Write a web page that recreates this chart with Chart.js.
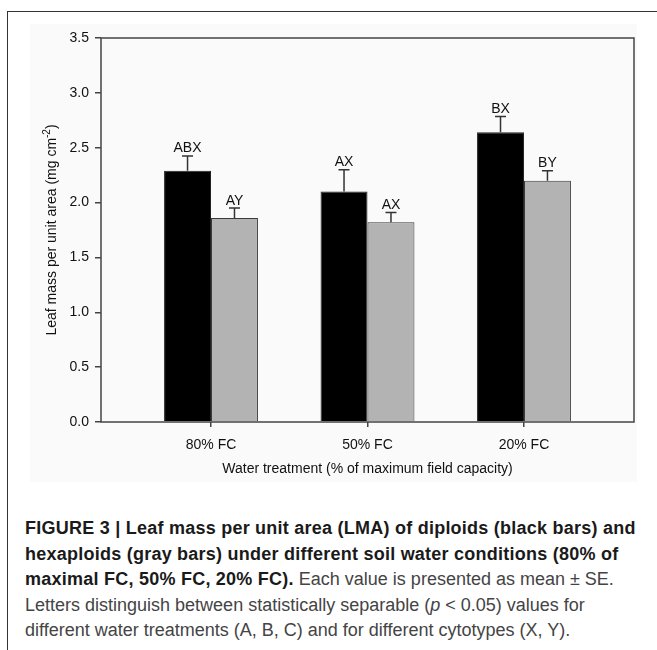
<!DOCTYPE html>
<html>
<head>
<meta charset="utf-8">
<script src="https://cdn.jsdelivr.net/npm/chart.js@4/dist/chart.umd.min.js"></script>
<style>
  html, body { margin:0; padding:0; background:#ffffff; }
  body { width:657px; height:650px; position:relative; overflow:hidden; }
  #frame { position:absolute; left:7px; top:11px; width:700px; height:700px;
           border-left:1.5px solid #333; border-top:1.5px solid #333; box-sizing:border-box; }
  #shade { position:absolute; left:30px; top:24px; width:607px; height:458px; background:#fafafa; }
  #wrap { position:absolute; left:0; top:0; width:657px; height:500px; }
  #cap { position:absolute; left:25px; top:516px; font-family:"Liberation Sans", Arial, sans-serif;
         font-size:18px; line-height:25.5px; color:#444; white-space:nowrap; }
  #cap b { color:#1a1a1a; letter-spacing:0.24px; }
</style>
</head>
<body>
<div id="frame"></div>
<div id="shade"></div>
<div id="wrap"><canvas id="c" width="657" height="500"></canvas></div>
<div id="cap"><b>FIGURE 3 | Leaf mass per unit area (LMA) of diploids (black bars) and<br>hexaploids (gray bars) under different soil water conditions (80% of<br>maximal FC, 50% FC, 20% FC).</b> Each value is presented as mean ± SE.<br>Letters distinguish between statistically separable (<i>p</i> &lt; 0.05) values for<br>different water treatments (A, B, C) and for different cytotypes (X, Y).</div>
<script>
// ---- data ----
const categories = ['80% FC', '50% FC', '20% FC'];
const diploidMean = [2.29, 2.10, 2.64];
const diploidSE = [0.135, 0.20, 0.145];
const hexaploidMean = [1.86, 1.82, 2.20];
const hexaploidSE = [0.09, 0.09, 0.09];
const diploidLetters = ['ABX', 'AX', 'BX'];
const hexaploidLetters = ['AY', 'AX', 'BY'];
const yMin = 0, yMax = 3.5, yStep = 0.5;
const xTitle = 'Water treatment (% of maximum field capacity)';
const yTitleMain = 'Leaf mass per unit area (mg cm';
const yTitleSup = '-2';
const yTitleEnd = ')';

const seList = [diploidSE, hexaploidSE];
const letterList = [diploidLetters, hexaploidLetters];
const FONT = '"Liberation Sans", Arial, sans-serif';
const FS = 14;

const overlay = {
  id: 'overlay',
  afterDatasetsDraw(chart) {
    const ctx = chart.ctx;
    const ys = chart.scales.y;
    ctx.save();
    chart.data.datasets.forEach((ds, di) => {
      const meta = chart.getDatasetMeta(di);
      meta.data.forEach((bar, i) => {
        const v = ds.data[i].y;
        const top = ys.getPixelForValue(v + seList[di][i]);
        const base = ys.getPixelForValue(v);
        ctx.strokeStyle = '#333';
        ctx.lineWidth = 1.5;
        ctx.beginPath();
        ctx.moveTo(bar.x, base);
        ctx.lineTo(bar.x, top);
        ctx.moveTo(bar.x - 5.5, top);
        ctx.lineTo(bar.x + 5.5, top);
        ctx.stroke();
        ctx.fillStyle = '#111';
        ctx.font = FS + 'px ' + FONT;
        ctx.textAlign = 'center';
        ctx.textBaseline = 'alphabetic';
        ctx.fillText(letterList[di][i], bar.x, top - 3.5);
      });
    });
    const a = chart.chartArea;
    ctx.strokeStyle = '#444';
    ctx.lineWidth = 1.5;
    ctx.strokeRect(a.left, a.top, a.right - a.left, a.bottom - a.top);
    ctx.restore();
  },
  afterDraw(chart) {
    const ctx = chart.ctx;
    const a = chart.chartArea;
    ctx.save();
    ctx.fillStyle = '#111';
    ctx.font = FS + 'px ' + FONT;
    ctx.textAlign = 'center';
    ctx.textBaseline = 'middle';
    ctx.fillText(xTitle, (a.left + a.right) / 2, 469);
    // y title with superscript
    ctx.translate(52, (a.top + a.bottom) / 2);
    ctx.rotate(-Math.PI / 2);
    ctx.textAlign = 'left';
    ctx.font = FS + 'px ' + FONT;
    const w1 = ctx.measureText(yTitleMain).width;
    const w3 = ctx.measureText(yTitleEnd).width;
    ctx.font = '10px ' + FONT;
    const w2 = ctx.measureText(yTitleSup).width;
    let x = -(w1 + w2 + w3) / 2;
    ctx.font = FS + 'px ' + FONT;
    ctx.fillText(yTitleMain, x, 0);
    x += w1;
    ctx.font = '10px ' + FONT;
    ctx.fillText(yTitleSup, x, -5);
    x += w2;
    ctx.font = FS + 'px ' + FONT;
    ctx.fillText(yTitleEnd, x, 0);
    ctx.restore();
  }
};

new Chart(document.getElementById('c'), {
  type: 'bar',
  data: {
    datasets: [
      { label: 'Diploids', data: categories.map((c, i) => ({ x: i + 1, y: diploidMean[i] })),
        backgroundColor: '#000000', borderColor: '#222', borderWidth: 1 },
      { label: 'Hexaploids', data: categories.map((c, i) => ({ x: i + 1, y: hexaploidMean[i] })),
        backgroundColor: '#b3b3b3', borderColor: '#3a3a3a', borderWidth: 1 }
    ]
  },
  options: {
    responsive: false,
    animation: false,
    devicePixelRatio: 1,
    layout: { padding: { left: 0, top: 38, right: 23, bottom: 0 } },
    categoryPercentage: 0.6,
    barPercentage: 1.0,
    plugins: { legend: { display: false }, tooltip: { enabled: false } },
    scales: {
      x: {
        type: 'linear',
        min: 0.297, max: 3.703,
        offset: false,
        afterBuildTicks: (s) => { s.ticks = categories.map((c, i) => ({ value: i + 1 })); },
        afterFit: (s) => { s.height = 78; },
        grid: { display: true, drawOnChartArea: false, drawTicks: true, tickLength: 5,
                color: '#444', lineWidth: 1.5, offset: false },
        border: { display: false },
        ticks: { callback: (v) => categories[Math.round(v) - 1] || '', color: '#111',
                 font: { family: FONT, size: FS }, padding: 10, maxRotation: 0, autoSkip: false }
      },
      y: {
        min: yMin, max: yMax,
        afterFit: (s) => { s.width = 101; },
        grid: { display: true, drawOnChartArea: false, drawTicks: true, tickLength: 6,
                color: '#444', lineWidth: 1.5 },
        border: { display: false },
        ticks: { stepSize: yStep, callback: (v) => v.toFixed(1), color: '#111',
                 font: { family: FONT, size: FS }, padding: 6 }
      }
    }
  },
  plugins: [overlay]
});
</script>
</body>
</html>
